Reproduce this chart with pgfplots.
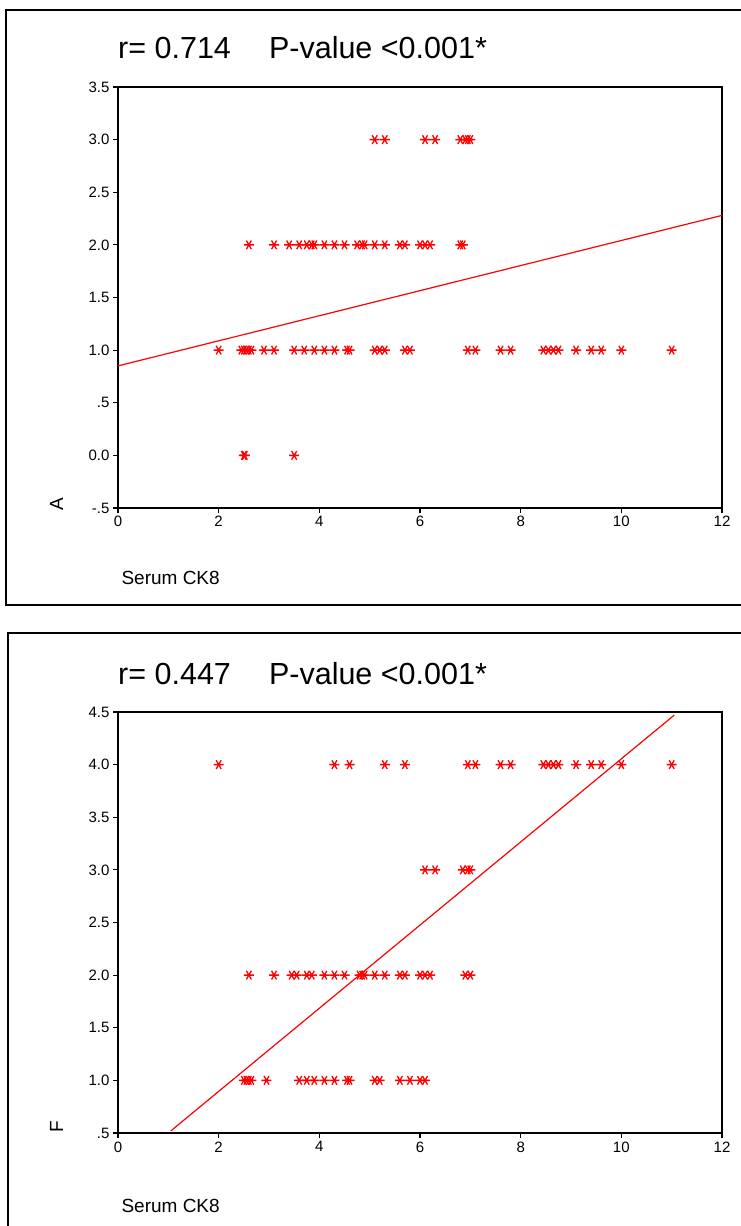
\documentclass[border=0pt]{standalone}
\usepackage{fontspec}
\setmainfont{Liberation Sans}
\usepackage{pgfplots}
\pgfplotsset{compat=1.18}
\definecolor{spssred}{RGB}{255,0,0}

% SPSS-like scatter panels, 1px of the reference = 1pt here
\pgfplotsset{
  ck8/.style={
    scale only axis, width=604pt, height=421pt,
    xmin=0, xmax=12, xtick={0,2,...,12},
    tick align=outside, xtick pos=left, ytick pos=left,
    major tick length=5pt,
    axis line style={line width=1.2pt},
    every tick/.style={black, line width=1.2pt},
    ticklabel style={font=\fontsize{15}{18}\selectfont},
    /pgf/number format/assume math mode=true,
    clip=false,
  },
  pts/.style={only marks, mark=asterisk, mark size=5pt,
    mark options={rotate=90, line width=1.3pt}, color=spssred},
  fitline/.style={no marks, color=spssred, line width=1.2pt},
}

\begin{document}
\begin{tikzpicture}
\path[use as bounding box] (0pt,0pt) rectangle (741pt,1226pt);

% ---- panel A ----
\draw[line width=1.2pt] (741pt,621pt) -- (6pt,621pt) -- (6pt,1216pt) -- (741pt,1216pt);
\node[anchor=base west, inner sep=0pt, font=\fontsize{30.5}{36}\selectfont] at (118pt,1167pt) {r= 0.714\hspace{1.25em}P-value <0.001*};
\node[anchor=base west, font=\fontsize{19}{22}\selectfont] at (118pt,641pt) {Serum CK8};
\node[anchor=base, rotate=90, font=\fontsize{19}{22}\selectfont] at (63pt,722pt) {A};

\begin{axis}[ck8, at={(118pt,718pt)}, anchor=south west,
  ymin=-0.5, ymax=3.5, ytick={-0.5,0,0.5,1,1.5,2,2.5,3,3.5},
  yticklabels={-.5,0.0,.5,1.0,1.5,2.0,2.5,3.0,3.5}]
\addplot[pts] coordinates {
  (5.1,3) (5.3,3) (6.1,3) (6.3,3) (6.8,3) (6.9,3) (6.95,3) (7.0,3)
  (2.6,2) (3.1,2) (3.4,2) (3.6,2) (3.75,2) (3.85,2) (3.9,2) (4.1,2) (4.3,2)
  (4.5,2) (4.75,2) (4.85,2) (4.9,2) (5.1,2) (5.3,2) (5.6,2) (5.7,2)
  (6.0,2) (6.1,2) (6.2,2) (6.8,2) (6.85,2)
  (2.0,1) (2.45,1) (2.5,1) (2.55,1) (2.6,1) (2.65,1) (2.9,1) (3.1,1) (3.5,1)
  (3.7,1) (3.9,1) (4.1,1) (4.3,1) (4.55,1) (4.6,1) (5.1,1) (5.2,1) (5.3,1)
  (5.7,1) (5.8,1) (6.95,1) (7.1,1) (7.6,1) (7.8,1) (8.45,1) (8.55,1)
  (8.65,1) (8.75,1) (9.1,1) (9.4,1) (9.6,1) (10.0,1) (11.0,1)
  (2.5,0) (2.52,0) (3.5,0)
};
\addplot[fitline] coordinates {(0,0.85) (12,2.28)};
\end{axis}

% ---- panel F ----
\draw[line width=1.2pt] (8pt,0pt) -- (8pt,593pt) -- (741pt,593pt);
\node[anchor=base west, inner sep=0pt, font=\fontsize{30.5}{36}\selectfont] at (118pt,541pt) {r= 0.447\hspace{1.25em}P-value <0.001*};
\node[anchor=base west, font=\fontsize{19}{22}\selectfont] at (118pt,13pt) {Serum CK8};
\node[anchor=base, rotate=90, font=\fontsize{19}{22}\selectfont] at (63pt,99pt) {F};

\begin{axis}[ck8, at={(118pt,93pt)}, anchor=south west,
  ymin=0.5, ymax=4.5, ytick={0.5,1,1.5,2,2.5,3,3.5,4,4.5},
  yticklabels={.5,1.0,1.5,2.0,2.5,3.0,3.5,4.0,4.5}]
\addplot[pts] coordinates {
  (2.0,4) (4.3,4) (4.6,4) (5.3,4) (5.7,4) (6.95,4) (7.1,4) (7.6,4) (7.8,4)
  (8.45,4) (8.55,4) (8.65,4) (8.75,4) (9.1,4) (9.4,4) (9.6,4) (10.0,4) (11.0,4)
  (6.1,3) (6.3,3) (6.85,3) (6.95,3) (7.0,3)
  (2.6,2) (3.1,2) (3.45,2) (3.55,2) (3.75,2) (3.85,2) (4.1,2) (4.3,2) (4.5,2)
  (4.8,2) (4.85,2) (4.9,2) (5.1,2) (5.3,2) (5.6,2) (5.7,2) (6.0,2) (6.1,2)
  (6.2,2) (6.9,2) (7.0,2)
  (2.5,1) (2.55,1) (2.6,1) (2.65,1) (2.95,1) (3.6,1) (3.75,1) (3.9,1) (4.1,1)
  (4.3,1) (4.55,1) (4.6,1) (5.1,1) (5.2,1) (5.6,1) (5.8,1) (6.0,1) (6.1,1)
};
\addplot[fitline] coordinates {(1.05,0.52) (11.05,4.47)};
\end{axis}
\end{tikzpicture}
\end{document}
